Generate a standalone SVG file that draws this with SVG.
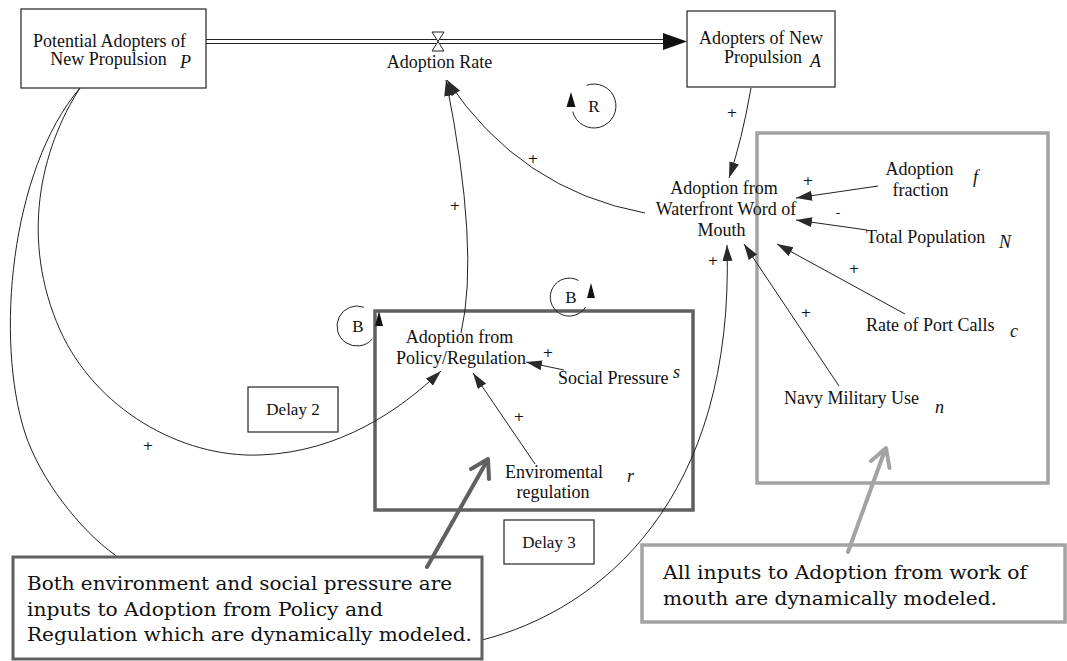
<svg xmlns="http://www.w3.org/2000/svg" width="1067" height="661" viewBox="0 0 1067 661">
  <defs>
    <style>
      .lbl { font-family: "Liberation Serif", "Times New Roman", serif; font-size: 18px; fill: #111; }
      .var { font-family: "Liberation Serif", "Times New Roman", serif; font-size: 18px; font-style: italic; fill: #111; }
      .pol { font-family: "DejaVu Sans", "Liberation Sans", sans-serif; font-size: 13px; fill: #111; text-anchor: middle; }
      .loop { font-family: "Liberation Serif", "Times New Roman", serif; font-size: 17px; fill: #111; text-anchor: middle; }
      .note { font-family: "DejaVu Serif", "Liberation Serif", serif; font-size: 18px; fill: #111; }
      .link { fill: none; stroke: #222; stroke-width: 1; marker-end: url(#head); }
      .box { fill: #fff; stroke: #222; stroke-width: 1.2; }
      .mid { text-anchor: middle; }
    </style>
    <marker id="head" markerUnits="userSpaceOnUse" markerWidth="17" markerHeight="11" refX="16" refY="5" orient="auto">
      <path d="M0,0 L16,5 L0,10 Z" fill="#2a2a2a"/>
    </marker>
  </defs>
  <rect width="1067" height="661" fill="#fff"/>

  <!-- grouping frames -->
  <rect id="policy-frame" x="375" y="311" width="318" height="199" fill="none" stroke="#606060" stroke-width="3.5"/>
  <rect id="wom-frame" x="757" y="133" width="291" height="350" fill="none" stroke="#a3a3a3" stroke-width="3.5"/>

  <!-- connectors -->
  <g id="connectors">
    <!-- material flow pipe -->
    <line x1="206" y1="39.5" x2="665" y2="39.5" stroke="#222" stroke-width="1.2"/>
    <line x1="206" y1="43.5" x2="665" y2="43.5" stroke="#222" stroke-width="1.2"/>
    <path d="M663,33 L687,41.5 L663,50 Z" fill="#111"/>
    <path d="M432,32 L444,32 L432,51 L444,51 Z" fill="#fff" stroke="#222" stroke-width="1"/>

    <!-- causal links -->
    <path class="link" d="M461,333 Q480,250 446,80"/>
    <path class="link" d="M645,213 Q520,190 447,80"/>
    <path class="link" d="M751,88 Q742,140 729,178"/>
    <path class="link" d="M878,186 L796,198"/>
    <path class="link" d="M867,230 L796,220"/>
    <path class="link" d="M905,314 L777,244"/>
    <path class="link" d="M839,386 L744,244"/>
    <path class="link" d="M564,370 L526,362"/>
    <path class="link" d="M535,464 L473,373"/>
    <path class="link" d="M80,88 C40,150 20,240 60,330 C95,408 180,458 260,455 C340,452 400,410 441,371"/>
    <path class="link" d="M80,88 C10,170 -5,340 25,433 C40,479 80,530 115,555 C200,640 400,670 482,640 C600,610 735,500 727,245"/>

    <!-- polarity signs -->
    <text class="pol" x="732" y="117">+</text>
    <text class="pol" x="533" y="163">+</text>
    <text class="pol" x="455" y="210">+</text>
    <text class="pol" x="808" y="185">+</text>
    <text class="pol" x="838" y="217">-</text>
    <text class="pol" x="854" y="273">+</text>
    <text class="pol" x="806" y="317">+</text>
    <text class="pol" x="713" y="265">+</text>
    <text class="pol" x="548" y="357">+</text>
    <text class="pol" x="519" y="421">+</text>
    <text class="pol" x="148" y="450">+</text>
  </g>

  <!-- loop markers -->
  <g id="loop-R">
    <path d="M586.5,85.3 A22,22 0 1 1 572.7,111.7" fill="none" stroke="#222" stroke-width="1"/>
    <path d="M571,92 L566.5,107 L575.5,107 Z" fill="#111"/>
    <text class="loop" x="594" y="112">R</text>
  </g>
  <g id="loop-B1">
    <path d="M363.8,307.2 A20,20 0 1 0 372.3,338.9" fill="none" stroke="#222" stroke-width="1"/>
    <path d="M379,311 L375,326 L383,326 Z" fill="#111"/>
    <text class="loop" x="358" y="332">B</text>
  </g>
  <g id="loop-B2">
    <path d="M578.5,280.5 A19,19 0 1 0 585.5,307" fill="none" stroke="#222" stroke-width="1"/>
    <path d="M591,283 L587,298 L595,298 Z" fill="#111"/>
    <text class="loop" x="571" y="303">B</text>
  </g>

  <!-- stocks -->
  <g id="potential-adopters">
    <rect class="box" x="21" y="9" width="185" height="79"/>
    <text class="lbl mid" x="109.5" y="47">Potential Adopters of</text>
    <text class="lbl mid" x="108.5" y="65">New Propulsion</text>
    <text class="var" x="180" y="68">P</text>
  </g>
  <g id="adopters">
    <rect class="box" x="687" y="11" width="148" height="76"/>
    <text class="lbl" x="699" y="44">Adopters of New</text>
    <text class="lbl" x="724" y="63">Propulsion</text>
    <text class="var" x="810" y="67">A</text>
  </g>

  <!-- flow -->
  <g id="adoption-rate">
    <text class="lbl mid" x="439.5" y="68">Adoption Rate</text>
  </g>

  <!-- auxiliaries -->
  <g id="adoption-wom">
    <text class="lbl mid" x="724" y="194">Adoption from</text>
    <text class="lbl mid" x="726" y="215">Waterfront Word of</text>
    <text class="lbl mid" x="721.5" y="236">Mouth</text>
  </g>
  <g id="adoption-fraction">
    <text class="lbl mid" x="919.5" y="175">Adoption</text>
    <text class="lbl mid" x="920.5" y="196">fraction</text>
    <text class="var" x="973" y="183">f</text>
  </g>
  <g id="total-population">
    <text class="lbl" x="866" y="243">Total Population</text>
    <text class="var" x="999" y="248">N</text>
  </g>
  <g id="port-calls">
    <text class="lbl" x="866" y="331">Rate of Port Calls</text>
    <text class="var" x="1010" y="337">c</text>
  </g>
  <g id="navy-use">
    <text class="lbl" x="784" y="404">Navy Military Use</text>
    <text class="var" x="935" y="413">n</text>
  </g>
  <g id="adoption-policy">
    <text class="lbl mid" x="459.5" y="343">Adoption from</text>
    <text class="lbl mid" x="461" y="364">Policy/Regulation</text>
  </g>
  <g id="social-pressure">
    <text class="lbl" x="558" y="384">Social Pressure</text>
    <text class="var" x="673" y="378">s</text>
  </g>
  <g id="env-regulation">
    <text class="lbl mid" x="554" y="478">Enviromental</text>
    <text class="lbl mid" x="553" y="498">regulation</text>
    <text class="var" x="627" y="482">r</text>
  </g>
  <g id="delay-2">
    <rect class="box" x="248" y="387" width="90" height="45"/>
    <text class="lbl mid" x="293" y="415" style="font-size:17px">Delay 2</text>
  </g>
  <g id="delay-3">
    <rect class="box" x="504" y="520" width="90" height="44"/>
    <text class="lbl mid" x="549" y="548" style="font-size:17px">Delay 3</text>
  </g>

  <!-- annotations -->
  <g id="note-policy">
    <rect x="13" y="557" width="469" height="102" fill="#fff" stroke="#606060" stroke-width="3"/>
    <path d="M427,567 L487,461 M471,469 L488,459 L489,479" fill="none" stroke="#606060" stroke-width="4" stroke-linecap="round" stroke-linejoin="round"/>
    <text class="note" x="27" y="590" textLength="425" lengthAdjust="spacingAndGlyphs">Both environment and social pressure are</text>
    <text class="note" x="27" y="615.5" textLength="356" lengthAdjust="spacingAndGlyphs">inputs to Adoption from Policy and</text>
    <text class="note" x="27" y="641" textLength="445" lengthAdjust="spacingAndGlyphs">Regulation which are dynamically modeled.</text>
  </g>
  <g id="note-wom">
    <rect x="642" y="545" width="423" height="77" fill="#fff" stroke="#a3a3a3" stroke-width="3.5"/>
    <path d="M848,552 L885,450 M871,461 L886,448 L889.5,468" fill="none" stroke="#a3a3a3" stroke-width="4" stroke-linecap="round" stroke-linejoin="round"/>
    <text class="note" x="663" y="579" textLength="364" lengthAdjust="spacingAndGlyphs">All inputs to Adoption from work of</text>
    <text class="note" x="663" y="605" textLength="334" lengthAdjust="spacingAndGlyphs">mouth are dynamically modeled.</text>
  </g>
</svg>
